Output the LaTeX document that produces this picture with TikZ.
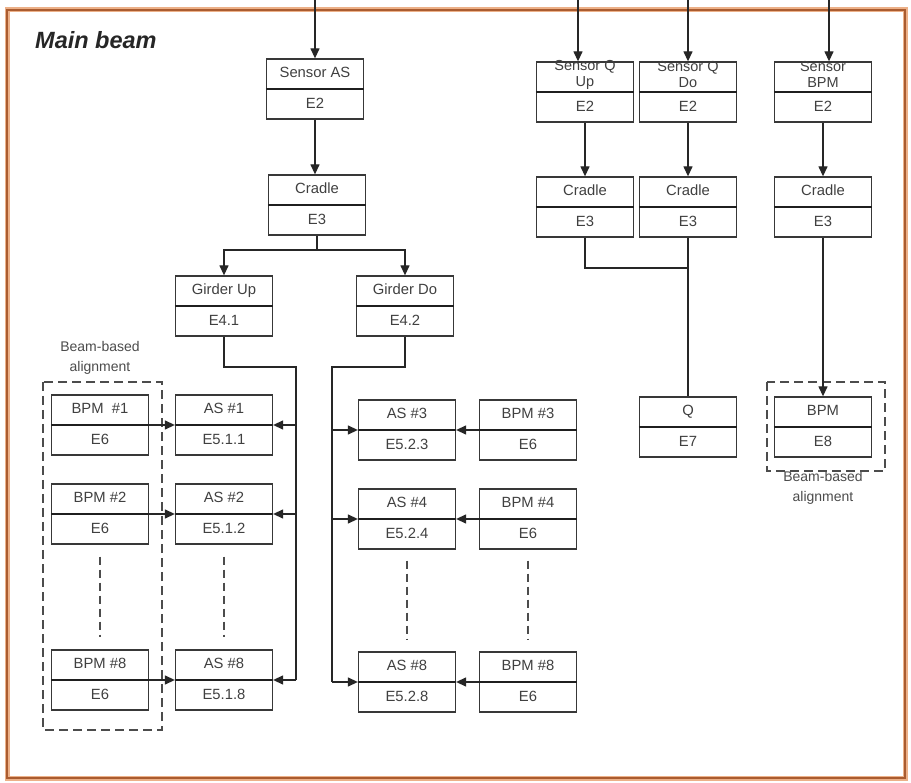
\documentclass[tikz,border=0pt]{standalone}
\usepackage{fontspec}
\setmainfont{Liberation Sans}
\usetikzlibrary{arrows.meta,calc}
\definecolor{frameLight}{RGB}{236,176,136}
\definecolor{frameDark}{RGB}{170,92,48}
\newcommand{\tbox}[4]{%
  \node[boxst] (#1) at (#2) {};
  \draw[divst] (#1.west) -- (#1.east);
  \node[lblst] at ($(#1.center)!0.5!(#1.north)$) {#3};
  \node[lblst] at ($(#1.center)!0.5!(#1.south)$) {#4};
}
\newcommand{\tboxtwo}[4]{%
  \node[boxst] (#1) at (#2) {};
  \draw[divst] (#1.west) -- (#1.east);
  \node[lbltwo] at ($(#1.center)!0.5!(#1.north)+(0,-2)$) {#3};
  \node[lblst] at ($(#1.center)!0.5!(#1.south)$) {#4};
}
\begin{document}
\begin{tikzpicture}[x=1pt,y=-1pt,
  boxst/.style={draw=black!78, line width=1.3pt, minimum width=97pt, minimum height=60pt, inner sep=0pt, fill=white},
  divst/.style={draw=black!88, line width=1.5pt},
  lblst/.style={font=\fontsize{14.8}{16}\selectfont, text=black!75, inner sep=0pt, text height=10.6pt, text depth=3pt},
  lbltwo/.style={font=\fontsize{14.5}{16}\selectfont, text=black!75, inner sep=0pt, align=center},
  conn/.style={draw=black!85, line width=1.3pt},
  arr/.style={conn, -{Triangle[length=10pt,width=9pt]}},
  grp/.style={draw=black!70, line width=1.5pt, dash pattern=on 9pt off 5pt},
  vdots/.style={draw=black!70, line width=1.4pt, dash pattern=on 8pt off 5pt},
  note/.style={font=\fontsize{14}{19.5}\selectfont, text=black!70, align=center, inner sep=0pt},
]
\useasboundingbox (0,0) rectangle (911,783);
\fill[white] (0,0) rectangle (911,783);

% frame
\draw[line width=5pt, frameLight] (7,10) rectangle (905,778);
\draw[line width=2.2pt, frameDark] (7,10) rectangle (905,778);
\node[anchor=west, font=\fontsize{23.5}{26}\selectfont\bfseries\itshape, text=black!85, inner sep=0pt] (title) at (35,40) {Main beam};

% boxes
\tbox{sAS}{315,89}{Sensor AS}{E2}
\tbox{cL}{317,205}{Cradle}{E3}
\tbox{gU}{224,306}{Girder Up}{E4.1}
\tbox{gD}{405,306}{Girder Do}{E4.2}

\tbox{bpmA}{100,425}{BPM \ \#1}{E6}
\tbox{asA}{224,425}{AS \#1}{E5.1.1}
\tbox{bpmB}{100,514}{BPM \#2}{E6}
\tbox{asB}{224,514}{AS \#2}{E5.1.2}
\tbox{bpmC}{100,680}{BPM \#8}{E6}
\tbox{asC}{224,680}{AS \#8}{E5.1.8}

\tbox{asD}{407,430}{AS \#3}{E5.2.3}
\tbox{bpmD}{528,430}{BPM \#3}{E6}
\tbox{asE}{407,519}{AS \#4}{E5.2.4}
\tbox{bpmE}{528,519}{BPM \#4}{E6}
\tbox{asF}{407,682}{AS \#8}{E5.2.8}
\tbox{bpmF}{528,682}{BPM \#8}{E6}

\tboxtwo{sQU}{585,92}{Sensor Q\\Up}{E2}
\tboxtwo{sQD}{688,92}{Sensor Q\\Do}{E2}
\tboxtwo{sB}{823,92}{Sensor\\BPM}{E2}
\tbox{cQU}{585,207}{Cradle}{E3}
\tbox{cQD}{688,207}{Cradle}{E3}
\tbox{cB}{823,207}{Cradle}{E3}
\tbox{q}{688,427}{Q}{E7}
\tbox{bpmR}{823,427}{BPM}{E8}

% groups
\draw[grp] (43,382) rectangle (162,730);
\draw[grp] (767,382) rectangle (885,471);
\node[note] (bbaL) at (100,358) {Beam-based\\alignment};
\node[note] (bbaR) at (823,488) {Beam-based\\alignment};

% top inputs
\coordinate (tAS) at (315,0);
\coordinate (tQU) at (578,0);
\coordinate (tQD) at (688,0);
\coordinate (tB) at (829,0);
\draw[arr] (tAS) -- (tAS |- sAS.north);
\draw[arr] (tQU) -- (tQU |- sQU.north);
\draw[arr] (tQD) -- (tQD |- sQD.north);
\draw[arr] (tB) -- (tB |- sB.north);

% main chain
\draw[arr] (sAS.south) -- (sAS.south |- cL.north);
\coordinate (jC) at (317,250);
\draw[conn] (cL.south) -- (jC);
\draw[arr] (jC) -| (gU.north);
\draw[arr] (jC) -| (gD.north);

% girder up bus
\coordinate (busU) at (296,367);
\draw[conn] (gU.south) |- (busU) -- (busU |- asC.east);
\draw[arr] (busU |- asA.east) -- (asA.east);
\draw[arr] (busU |- asB.east) -- (asB.east);
\draw[arr] (busU |- asC.east) -- (asC.east);

% girder do bus
\coordinate (busD) at (332,367);
\draw[conn] (gD.south) |- (busD) -- (busD |- asF.west);
\draw[arr] (busD |- asD.west) -- (asD.west);
\draw[arr] (busD |- asE.west) -- (asE.west);
\draw[arr] (busD |- asF.west) -- (asF.west);

% BPM to AS
\draw[arr] (bpmA.east) -- (asA.west);
\draw[arr] (bpmB.east) -- (asB.west);
\draw[arr] (bpmC.east) -- (asC.west);
\draw[arr] (bpmD.west) -- (asD.east);
\draw[arr] (bpmE.west) -- (asE.east);
\draw[arr] (bpmF.west) -- (asF.east);

% continuation dashes
\draw[vdots] ($(bpmB.south)+(0,12)$) -- ($(bpmC.north)-(0,12)$);
\draw[vdots] ($(asB.south)+(0,12)$) -- ($(asC.north)-(0,12)$);
\draw[vdots] ($(asE.south)+(0,11)$) -- ($(asF.north)-(0,11)$);
\draw[vdots] ($(bpmE.south)+(0,11)$) -- ($(bpmF.north)-(0,11)$);

% right side
\draw[arr] (sQU.south) -- (cQU.north);
\draw[arr] (sQD.south) -- (cQD.north);
\draw[arr] (sB.south) -- (cB.north);
\coordinate (jQ) at (688,268);
\draw[conn] (cQU.south) |- (jQ);
\draw[conn] (cQD.south) -- (q.north);
\draw[arr] (cB.south) -- (bpmR.north);
\end{tikzpicture}
\end{document}
